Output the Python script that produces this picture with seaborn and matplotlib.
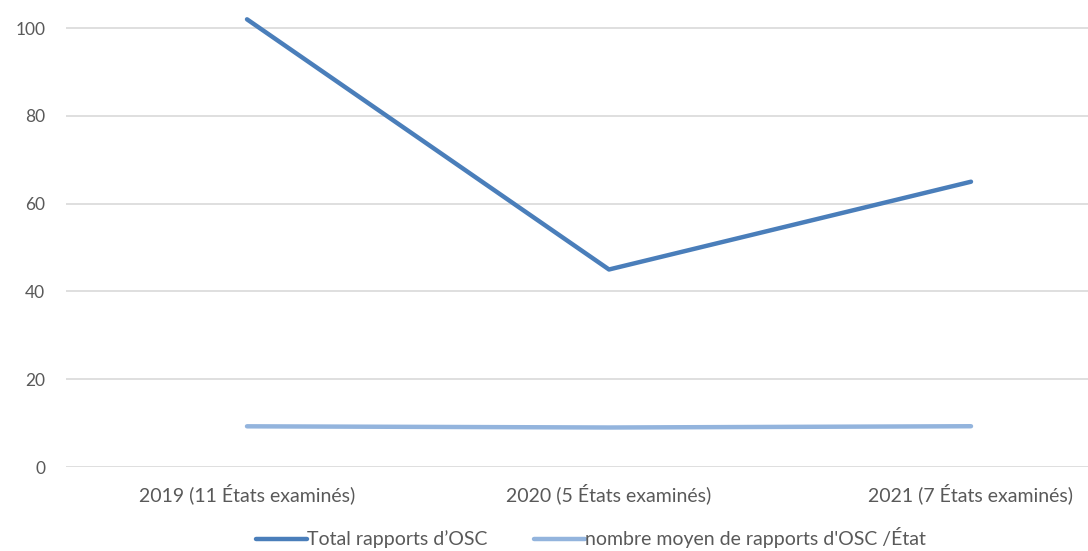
import matplotlib
matplotlib.use('Agg')
import matplotlib.pyplot as plt
import pandas as pd
import seaborn as sns

categories = ['2019 (11 États examinés)', '2020 (5 États examinés)', '2021 (7 États examinés)']
total_rapports = [102, 45, 65]
moyenne_rapports = [9.27, 9.0, 9.29]
series_names = ['Total rapports d’OSC', "nombre moyen de rapports d'OSC /État"]
colors = ['#4a7eba', '#93b4dd']

df = pd.DataFrame({
    'annee': categories * 2,
    'x': list(range(len(categories))) * 2,
    'valeur': total_rapports + moyenne_rapports,
    'serie': [series_names[0]] * 3 + [series_names[1]] * 3,
})

sns.set_style('white')
plt.rcParams['font.family'] = ['Lato', 'DejaVu Sans']

fig = plt.figure(figsize=(10.88, 5.51), dpi=100)
ax = fig.add_axes([66 / 1088, 1 - 467 / 551, 1086 / 1088, 467 / 551])

sns.lineplot(data=df, x='x', y='valeur', hue='serie', palette=colors,
             linewidth=3.2, ax=ax, legend=False)

ax.set_xlim(-0.5, 2.5)
ax.set_ylim(0, 106.4)
ax.set_yticks([0, 20, 40, 60, 80, 100])
ax.set_xticks(range(len(categories)))
ax.set_xticklabels(categories)
ax.tick_params(axis='both', length=0, labelcolor='#595959')
ax.tick_params(axis='x', pad=12, labelsize=14)
ax.tick_params(axis='y', pad=15, labelsize=12.5)
ax.grid(axis='y', color='#d9d9d9', linewidth=1.2)
ax.set_axisbelow(True)
for s in ax.spines.values():
    s.set_visible(False)
ax.set_xlabel('')
ax.set_ylabel('')

handles = [plt.Line2D([], [], color=c, linewidth=3.2) for c in colors]
fig.legend(handles, series_names, loc='center', bbox_to_anchor=(591 / 1088, 1 - 538 / 551),
           ncol=2, frameon=False, fontsize=14, labelcolor='#595959',
           handlelength=2.6, handletextpad=0.0, columnspacing=2.4)

fig.savefig('out.png', dpi=100)
